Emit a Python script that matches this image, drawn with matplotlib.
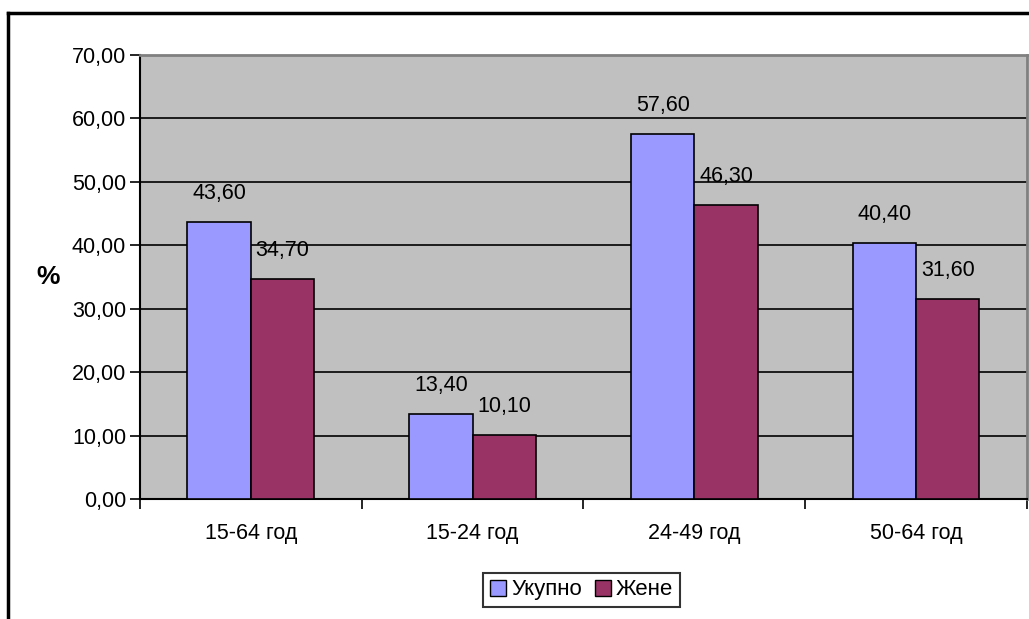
import matplotlib

matplotlib.use("Agg")

import matplotlib.pyplot as plt
import numpy as np
from matplotlib.lines import Line2D

plt.rcParams["font.family"] = ["Liberation Sans", "DejaVu Sans"]

categories = ["15-64 год", "15-24 год", "24-49 год", "50-64 год"]
series_names = ["Укупно", "Жене"]
ukupno = [43.60, 13.40, 57.60, 40.40]
zhene = [34.70, 10.10, 46.30, 31.60]
yticks = [0, 10, 20, 30, 40, 50, 60, 70]

colors = ["#9999FF", "#993366"]
fs = 15.5


def fmt(v):
    return f"{v:.2f}".replace(".", ",")


fig = plt.figure(figsize=(10.29, 6.19), dpi=100)
ax = fig.add_axes([0.136, 0.194, 0.862, 0.717])
ax.set_facecolor("#C0C0C0")

x = np.arange(len(categories))
width = 1 / 3.5
for i, (vals, name) in enumerate(zip([ukupno, zhene], series_names)):
    pos = x + (i - 0.5) * width
    bars = ax.bar(pos, vals, width, color=colors[i], edgecolor="black",
                  linewidth=1.2, label=name, zorder=3)
    for b, v in zip(bars, vals):
        ax.annotate(fmt(v), (b.get_x() + b.get_width() / 2, v),
                    xytext=(0, 13), textcoords="offset points",
                    ha="center", va="bottom", fontsize=fs)

ax.set_xlim(-0.5, len(categories) - 0.5)
ax.set_ylim(0, 70)
ax.set_yticks(yticks)
ax.set_yticklabels([fmt(v) for v in yticks], fontsize=fs)
ax.yaxis.grid(True, color="black", linewidth=1.2, zorder=1)
ax.set_axisbelow(True)

ax.set_xticks(x)
ax.set_xticklabels(categories, fontsize=fs)
ax.tick_params(axis="x", length=0, pad=17)
ax.set_xticks(np.arange(-0.5, len(categories)), minor=True)
ax.tick_params(axis="x", which="minor", length=7, width=1.2, direction="out")
ax.tick_params(axis="y", length=7, width=1.2, direction="out", pad=3)

for s in ["left", "bottom"]:
    ax.spines[s].set_color("black")
    ax.spines[s].set_linewidth(1.5)
for s in ["top", "right"]:
    ax.spines[s].set_color("#808080")
    ax.spines[s].set_linewidth(2)

fig.text(0.047, 0.553, "%", fontsize=19, fontweight="bold", ha="center", va="center")

handles = [Line2D([], [], marker="s", linestyle="none", markersize=11,
                  markerfacecolor=c, markeredgecolor="black") for c in colors]
leg = fig.legend(handles, series_names, loc="center", bbox_to_anchor=(0.565, 0.047),
                 ncol=2, fontsize=16, frameon=True, fancybox=False,
                 handletextpad=0.2, columnspacing=0.5, borderpad=0.3,
                 handlelength=0.8)
leg.get_frame().set_edgecolor("black")
leg.get_frame().set_linewidth(1.5)

# outer chart frame (cut at right and bottom)
fig.add_artist(Line2D([0.008, 0.008], [0, 0.979], color="black", linewidth=2.5,
                      transform=fig.transFigure))
fig.add_artist(Line2D([0.008, 1.0], [0.979, 0.979], color="black", linewidth=2.5,
                      transform=fig.transFigure))

fig.savefig("out.png", dpi=100)
plt.close(fig)
